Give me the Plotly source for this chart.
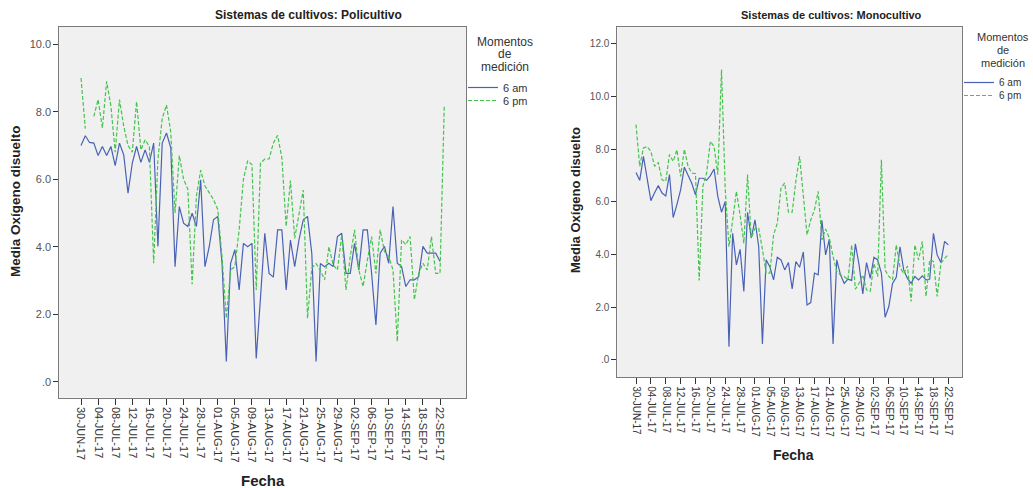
import pandas as pd
import plotly.graph_objects as go

W, H = 1033, 488
START = pd.Timestamp("2017-06-30")

# ---------------- data ----------------
poli_6am = [7.0, 7.29, 7.09, 7.07, 6.7, 6.97, 6.7, 6.97, 6.4, 7.07,
            6.72, 5.59, 6.48, 6.97, 6.5, 6.87, 6.5, 7.07, 4.01, 7.07,
            7.37, 6.93, 3.41, 5.19, 4.7, 4.6, 4.99, 4.6, 5.98, 3.41,
            4.0, 4.8, 4.9, 3.5, 0.6, 3.51, 3.91, 2.72, 4.1, 4.0,
            4.1, 0.69, 2.5, 4.4, 3.21, 3.1, 4.5, 4.5, 2.72, 4.2,
            3.41, 4.2, 4.8, 4.9, 3.8, 0.6, 3.5, 3.41, 3.51, 3.41,
            4.3, 4.4, 3.21, 3.21, 4.1, 3.31, 4.5, 4.5, 3.2, 1.68,
            3.81, 4.01, 3.51, 5.19, 3.51, 3.41, 2.82, 3.02, 3.02, 3.11,
            4.01, 3.81, 3.81, 3.81, 3.56]

poli_6pm = [9.0, 7.5, None, 7.86, 8.36, 7.52, 8.9, 8.16, 6.8, 8.36,
            7.57, 7.0, 6.8, 8.3, 6.87, 7.17, 6.97, 3.51, 6.6, 7.8,
            8.2, 7.4, 5.0, 6.7, 6.0, 5.7, 2.89, 5.5, 6.27, 5.8,
            5.6, 5.4, 5.1, 3.7, 1.88, 3.31, 3.41, 4.5, 6.0, 6.55,
            6.43, 2.72, 6.48, 6.6, 6.6, 7.07, 7.3, 6.63, 4.6, 5.96,
            4.25, 5.0, 5.68, 1.88, 3.37, 3.5, 3.3, 3.02, 4.0, 3.46,
            3.31, 4.35, 2.72, 3.71, 4.5, 3.31, 2.82, 3.6, 4.3, 3.21,
            4.5, 3.86, 3.71, 3.31, 1.19, 4.2, 4.06, 4.3, 2.43, 3.21,
            3.51, 3.31, 4.3, 3.21, 3.21, 8.18]

mono_6am = [7.12, 6.82, 7.73, 6.9, 6.05, 6.35, 6.62, 6.34, 6.23, 7.04,
            5.41, 5.9, 6.46, 7.32, 7.0, 6.71, 6.27, 6.9, 6.9, 6.82,
            7.0, 7.25, 6.21, 5.61, 6.02, 0.5, 4.81, 3.61, 4.2, 2.6,
            5.61, 4.63, 5.32, 4.3, 0.61, 3.8, 3.54, 3.04, 3.9, 3.8,
            3.42, 3.7, 2.7, 3.74, 3.52, 4.1, 2.09, 2.18, 3.3, 3.23,
            5.3, 3.99, 4.59, 0.61, 3.8, 3.23, 2.91, 3.07, 3.02, 4.41,
            3.61, 2.51, 3.7, 3.1, 3.9, 3.8, 3.3, 1.62, 2.03, 2.91,
            3.14, 4.3, 3.42, 3.1, 2.91, 3.17, 3.04, 3.19, 3.04, 3.07,
            4.81, 3.99, 3.7, 4.5, 4.37]

mono_6pm = [8.94, 7.35, 8.05, 8.1, 7.92, 7.35, 7.5, 6.84, 6.78, 7.8,
            7.54, 7.98, 6.97, 8.0, 7.35, 7.1, 7.07, 3.02, 6.6, 7.1,
            8.3, 8.1, 7.04, 11.03, 6.5, 4.3, 5.3, 6.4, 5.5, 4.43,
            7.04, 4.63, 5.0, 5.0, 4.2, 3.3, 3.3, 4.75, 5.19, 6.53,
            6.72, 5.61, 5.61, 6.8, 7.73, 6.2, 4.75, 5.32, 5.7, 6.4,
            4.56, 4.97, 4.63, 3.93, 3.36, 3.23, 3.17, 3.04, 4.37, 2.69,
            2.91, 3.23, 2.66, 2.6, 3.67, 3.17, 7.6, 3.42, 3.17, 3.04,
            4.37, 3.54, 3.27, 3.57, 2.22, 4.37, 3.8, 4.5, 2.41, 3.8,
            3.74, 2.41, 3.67, 3.86, 4.0]

tick_labels = ["30-JUN-17", "04-JUL-17", "08-JUL-17", "12-JUL-17", "16-JUL-17",
               "20-JUL-17", "24-JUL-17", "28-JUL-17", "01-AUG-17", "05-AUG-17",
               "09-AUG-17", "13-AUG-17", "17-AUG-17", "21-AUG-17", "25-AUG-17",
               "29-AUG-17", "02-SEP-17", "06-SEP-17", "10-SEP-17", "14-SEP-17",
               "18-SEP-17", "22-SEP-17"]
y_ticks_poli = [0, 2, 4, 6, 8, 10]
y_ticks_mono = [0, 2, 4, 6, 8, 10, 12]
series_names = ["6 am", "6 pm"]
legend_title_lines = ["Momentos", "de", "medición"]

# ---------------- helpers ----------------
def dates(n):
    return pd.date_range(START, periods=n, freq="D")

def day_ts(d):
    return (START + pd.Timedelta(days=d)).strftime("%Y-%m-%d %H:%M:%S")

def ylab(v):
    return ".0" if v == 0 else f"{v:.1f}"

def px_x(p):
    return p / W

def px_y(p):
    return 1 - p / H

tick_dates = pd.date_range(START, periods=len(tick_labels), freq="4D")

FONT = "Liberation Sans, Arial, sans-serif"
BLUE = "#4a62b5"
GREEN = "#44c44c"
AXCOL = "#7a7a7a"

fig = go.Figure()

fig.add_trace(go.Scatter(x=dates(len(poli_6am)), y=poli_6am, mode="lines",
                         name=series_names[0], line=dict(color=BLUE, width=1.2),
                         xaxis="x", yaxis="y", legend="legend", connectgaps=False))
fig.add_trace(go.Scatter(x=dates(len(poli_6pm)), y=poli_6pm, mode="lines",
                         name=series_names[1], line=dict(color=GREEN, width=1.2, dash="4px,2px"),
                         xaxis="x", yaxis="y", legend="legend2", connectgaps=False))
fig.add_trace(go.Scatter(x=dates(len(mono_6am)), y=mono_6am, mode="lines",
                         name=series_names[0], line=dict(color=BLUE, width=1.2),
                         xaxis="x2", yaxis="y2", legend="legend3"))
fig.add_trace(go.Scatter(x=dates(len(mono_6pm)), y=mono_6pm, mode="lines",
                         name=series_names[1], line=dict(color=GREEN, width=1.2, dash="4px,2px"),
                         xaxis="x2", yaxis="y2", legend="legend4"))

common_x = dict(type="date", tickmode="array", ticktext=tick_labels,
                tickvals=tick_dates, tickangle=90, showgrid=False, zeroline=False,
                showline=True, linecolor=AXCOL, linewidth=1, mirror=True,
                ticks="outside", ticklen=6, tickcolor="#333", tickwidth=1)
common_y = dict(showgrid=False, zeroline=False, showline=True, linecolor=AXCOL,
                linewidth=1, mirror=True, ticks="outside", ticklen=5,
                tickcolor="#333", tickwidth=1)

def leg(x, top, size):
    return dict(x=px_x(x), y=px_y(top), xanchor="left", yanchor="top",
                bgcolor="rgba(0,0,0,0)", font=dict(size=size, color="#333"),
                itemwidth=30, tracegroupgap=0)

fig.update_layout(
    width=W, height=H,
    margin=dict(l=0, r=0, t=0, b=0),
    paper_bgcolor="white",
    plot_bgcolor="#f0f0f0",
    font=dict(family=FONT, color="#333"),
    xaxis=dict(domain=[px_x(59.3), px_x(466)], anchor="y",
               range=[day_ts(-5.08), day_ts(90.08)],
               tickfont=dict(size=11, color="#333"), **common_x),
    yaxis=dict(domain=[px_y(397.7), px_y(26.7)], anchor="x",
               range=[-0.474, 10.52], tickmode="array", tickvals=y_ticks_poli,
               ticktext=[ylab(v) for v in y_ticks_poli],
               tickfont=dict(size=11, color="#555"), **common_y),
    xaxis2=dict(domain=[px_x(617.3), px_x(962)], anchor="y2",
                range=[day_ts(-5.03), day_ts(87.68)],
                tickfont=dict(size=10, color="#333"), **common_x),
    yaxis2=dict(domain=[px_y(377.3), px_y(27.3)], anchor="x2",
                range=[-0.657, 12.63], tickmode="array", tickvals=y_ticks_mono,
                ticktext=[ylab(v) for v in y_ticks_mono],
                tickfont=dict(size=10, color="#555"), **common_y),
    legend=leg(463, 73, 11),
    legend2=leg(463, 86, 11),
    legend3=leg(959, 68, 10),
    legend4=leg(959, 81, 10),
    showlegend=True,
)

def ann(text, x, y, size, angle=0, bold=True, color="#222"):
    fig.add_annotation(text=f"<b>{text}</b>" if bold else text,
                       x=px_x(x), y=px_y(y), xref="paper", yref="paper",
                       xanchor="center", yanchor="middle", showarrow=False,
                       textangle=angle, font=dict(size=size, family=FONT, color=color))

ann("Sistemas de cultivos: Policultivo", 308, 15, 12)
ann("Sistemas de cultivos: Monocultivo", 831, 15, 11)
ann("Media Oxígeno disuelto", 15, 201, 13.5, angle=-90)
ann("Media Oxígeno disuelto", 575, 200, 13, angle=-90)
ann("Fecha", 263, 480, 15)
ann("Fecha", 793, 455, 14)

# legend titles (centered, three lines)
for line_text, yl, yr in zip(legend_title_lines, [42, 54, 67], [37, 50, 63]):
    ann(line_text, 505, yl, 12, bold=False, color="#333")
    ann(line_text, 1003, yr, 11, bold=False, color="#333")

fig.write_html("out.html")
